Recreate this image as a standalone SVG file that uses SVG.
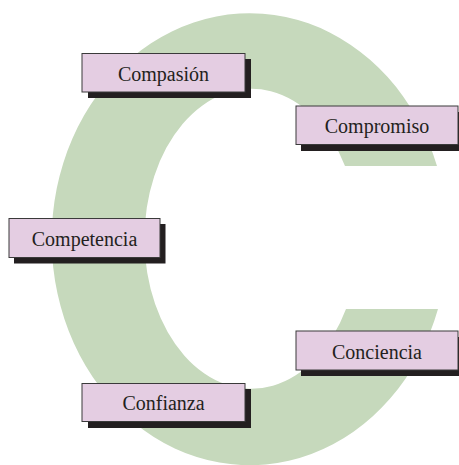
<svg xmlns="http://www.w3.org/2000/svg" width="459" height="465" viewBox="0 0 459 465">
  <style>
    .shadow { fill: #231f20; }
    .box { fill: #e4cde2; stroke: #3a3a3a; stroke-width: 1; }
    .label { font-family: "Liberation Serif", "DejaVu Serif", serif; font-size: 20px; fill: #231f20; text-anchor: middle; }
  </style>
  <rect width="459" height="465" fill="#ffffff"/>

  <!-- large green letter C: outer ellipse minus inner ellipse, opened on the right -->
  <path id="letter-c" fill="#c6d9bc" fill-rule="evenodd"
        d="M 437 166 A 198 226 0 1 0 438 309 L 346 309 A 107 150 0 1 1 345 166 Z"/>

  <g id="connectors"></g>

  <g id="node-compasion">
    <rect class="shadow" x="88" y="59" width="163" height="39"/>
    <rect class="box" x="82" y="53.5" width="163" height="38.5"/>
    <text class="label" x="163.5" y="81">Compasión</text>
  </g>

  <g id="node-compromiso">
    <rect class="shadow" x="301" y="112" width="163" height="39"/>
    <rect class="box" x="296" y="106" width="162" height="38.5"/>
    <text class="label" x="377" y="133">Compromiso</text>
  </g>

  <g id="node-competencia">
    <rect class="shadow" x="14" y="224" width="151.5" height="39.5"/>
    <rect class="box" x="9" y="218.5" width="151" height="39"/>
    <text class="label" x="84.5" y="246">Competencia</text>
  </g>

  <g id="node-conciencia">
    <rect class="shadow" x="301" y="337" width="163" height="39"/>
    <rect class="box" x="296" y="331" width="162" height="39"/>
    <text class="label" x="377" y="359">Conciencia</text>
  </g>

  <g id="node-confianza">
    <rect class="shadow" x="88" y="389" width="163" height="39"/>
    <rect class="box" x="82" y="383.5" width="163" height="38"/>
    <text class="label" x="163.5" y="410">Confianza</text>
  </g>
</svg>
